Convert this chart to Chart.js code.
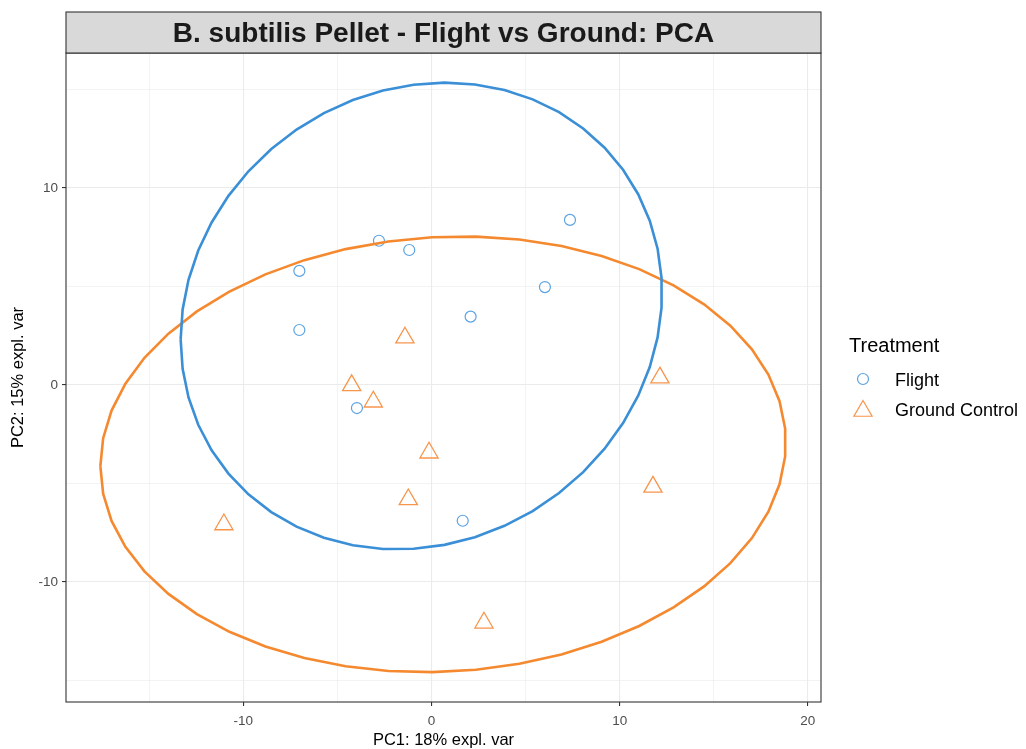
<!DOCTYPE html>
<html>
<head>
<meta charset="utf-8">
<title>B. subtilis Pellet PCA</title>
<script src="https://cdn.jsdelivr.net/npm/chart.js@4.4.1/dist/chart.umd.min.js"></script>
<style>
  html, body { margin: 0; padding: 0; background: #fff; }
  #wrap { width: 1026px; height: 749px; position: relative; }
</style>
</head>
<body>
<div id="wrap"><canvas id="pca"></canvas></div>
<script>
// ---------------- DATA ----------------
const groups = ["Flight", "Ground Control"];

const flightPC1 = [-7.02, -2.79, -1.18, 7.36, 6.03, 2.08, -7.02, -3.96, 1.66];
const flightPC2 = [5.79, 7.32, 6.85, 8.38, 4.97, 3.47, 2.79, -1.17, -6.89];

const groundPC1 = [-1.41, -4.24, -3.09, -0.13, -1.23, -11.03, 12.14, 11.77, 2.79];
const groundPC2 = [2.40, -0.02, -0.85, -3.44, -5.81, -7.08, 0.37, -5.17, -12.07];

const xTicks = [-15, -10, -5, 0, 5, 10, 15, 20];
const yTicks = [-15, -10, -5, 0, 5, 10, 15];
const majorX = [-10, 0, 10, 20];
const majorY = [-10, 0, 10];

const lineColors = ["#3a8fd6", "#f5892f"];
const pointColors = ["#5ba3e2", "#f7954b"];

// ---------------- HELPERS ----------------
function toPoints(xs, ys) {
  return xs.map((x, i) => ({ x: x, y: ys[i] }));
}

// 95% normal data ellipse from the group covariance (50 steps round the circle)
function dataEllipse(xs, ys) {
  const n = xs.length;
  const mx = xs.reduce((s, v) => s + v, 0) / n;
  const my = ys.reduce((s, v) => s + v, 0) / n;
  let sxx = 0, syy = 0, sxy = 0;
  for (let i = 0; i < n; i++) {
    sxx += (xs[i] - mx) * (xs[i] - mx);
    syy += (ys[i] - my) * (ys[i] - my);
    sxy += (xs[i] - mx) * (ys[i] - my);
  }
  sxx /= n - 1; syy /= n - 1; sxy /= n - 1;
  // upper cholesky factor
  const a = Math.sqrt(sxx), b = sxy / a, c = Math.sqrt(syy - b * b);
  const ed = Math.sqrt(5.991465);
  const out = [];
  for (let i = 0; i < 50; i++) {
    const t = -Math.PI + 2 * Math.PI * i / 49;
    out.push({
      x: mx + ed * a * Math.cos(t),
      y: my + ed * (b * Math.cos(t) + c * Math.sin(t))
    });
  }
  return out;
}

// ---------------- PANEL, STRIP, LEGEND ----------------
const panelDecor = {
  id: "panelDecor",
  afterDraw(chart) {
    const { ctx, chartArea: a } = chart;
    ctx.save();
    // panel border
    ctx.strokeStyle = "#333333";
    ctx.lineWidth = 1.1;
    ctx.strokeRect(a.left, a.top, a.right - a.left, a.bottom - a.top);

    // title strip
    ctx.fillStyle = "#d9d9d9";
    ctx.fillRect(a.left, 12, a.right - a.left, a.top - 12);
    ctx.strokeRect(a.left, 12, a.right - a.left, a.top - 12);
    ctx.fillStyle = "#1a1a1a";
    ctx.font = "bold 28px 'Liberation Sans', Arial, sans-serif";
    ctx.textAlign = "center";
    ctx.textBaseline = "middle";
    ctx.fillText("B. subtilis Pellet - Flight vs Ground: PCA", (a.left + a.right) / 2, 34);

    // legend
    ctx.textAlign = "left";
    ctx.fillStyle = "#000000";
    ctx.font = "20px 'Liberation Sans', Arial, sans-serif";
    ctx.fillText("Treatment", 849, 346);
    ctx.font = "18px 'Liberation Sans', Arial, sans-serif";
    ctx.fillText(groups[0], 895, 381);
    ctx.fillText(groups[1], 895, 411);

    ctx.lineWidth = 1.2;
    ctx.strokeStyle = pointColors[0];
    ctx.beginPath();
    ctx.arc(863, 379, 5.5, 0, Math.PI * 2);
    ctx.stroke();

    ctx.strokeStyle = pointColors[1];
    const r = 10.5, cx = 863, cy = 411;
    ctx.beginPath();
    ctx.moveTo(cx, cy - r);
    ctx.lineTo(cx + r * Math.sin(Math.PI / 3), cy + r / 2);
    ctx.lineTo(cx - r * Math.sin(Math.PI / 3), cy + r / 2);
    ctx.closePath();
    ctx.stroke();
    ctx.restore();
  }
};

// ---------------- CHART ----------------
Chart.defaults.font.family = "'Liberation Sans', Arial, sans-serif";

const tickFont = { size: 13.5 };
const isMajor = (list, v) => list.indexOf(v) !== -1;

new Chart(document.getElementById("pca").getContext("2d"), {
  type: "scatter",
  data: {
    datasets: [
      {
        label: groups[0] + " ellipse",
        data: dataEllipse(flightPC1, flightPC2),
        showLine: true,
        borderColor: lineColors[0],
        borderWidth: 2.6,
        pointRadius: 0,
        tension: 0,
        order: 0
      },
      {
        label: groups[1] + " ellipse",
        data: dataEllipse(groundPC1, groundPC2),
        showLine: true,
        borderColor: lineColors[1],
        borderWidth: 2.6,
        pointRadius: 0,
        tension: 0,
        order: 0
      },
      {
        label: groups[0],
        data: toPoints(flightPC1, flightPC2),
        pointStyle: "circle",
        pointRadius: 5.5,
        borderWidth: 1.2,
        borderColor: pointColors[0],
        backgroundColor: "rgba(0,0,0,0)",
        order: 1
      },
      {
        label: groups[1],
        data: toPoints(groundPC1, groundPC2),
        pointStyle: "triangle",
        pointRadius: 10.5,
        borderWidth: 1.3,
        borderColor: pointColors[1],
        backgroundColor: "rgba(0,0,0,0)",
        order: 1
      }
    ]
  },
  options: {
    responsive: true,
    maintainAspectRatio: false,
    animation: false,
    devicePixelRatio: 1,
    layout: { padding: { top: 53, right: 205, left: 0, bottom: 0 } },
    plugins: {
      legend: { display: false },
      tooltip: { enabled: false }
    },
    scales: {
      x: {
        type: "linear",
        min: -19.42,
        max: 20.70,
        afterBuildTicks: s => { s.ticks = xTicks.map(v => ({ value: v })); },
        afterFit: s => { s.height = 47; },
        border: { display: false },
        grid: {
          color: "#ebebeb",
          lineWidth: c => isMajor(majorX, c.tick.value) ? 1.1 : 0.6,
          tickColor: c => isMajor(majorX, c.tick.value) ? "#333333" : "rgba(0,0,0,0)",
          tickLength: 4,
          tickWidth: 1.1
        },
        ticks: {
          font: tickFont,
          color: "#4d4d4d",
          padding: 7,
          maxRotation: 0,
          callback: v => isMajor(majorX, v) ? String(v) : ""
        },
        title: {
          display: true,
          text: "PC1: 18% expl. var",
          color: "#000000",
          font: { size: 16.5, lineHeight: 1 },
          padding: { top: 0, bottom: 0 }
        }
      },
      y: {
        type: "linear",
        min: -16.09,
        max: 16.85,
        afterBuildTicks: s => { s.ticks = yTicks.map(v => ({ value: v })); },
        afterFit: s => { s.width = 66; },
        border: { display: false },
        grid: {
          color: "#ebebeb",
          lineWidth: c => isMajor(majorY, c.tick.value) ? 1.1 : 0.6,
          tickColor: c => isMajor(majorY, c.tick.value) ? "#333333" : "rgba(0,0,0,0)",
          tickLength: 4,
          tickWidth: 1.1
        },
        ticks: {
          font: tickFont,
          color: "#4d4d4d",
          padding: 4,
          callback: v => isMajor(majorY, v) ? String(v) : ""
        },
        title: {
          display: true,
          text: "PC2: 15% expl. var",
          color: "#000000",
          font: { size: 16.5 },
          padding: { top: 9, bottom: 0 }
        }
      }
    }
  },
  plugins: [panelDecor]
});
</script>
</body>
</html>
